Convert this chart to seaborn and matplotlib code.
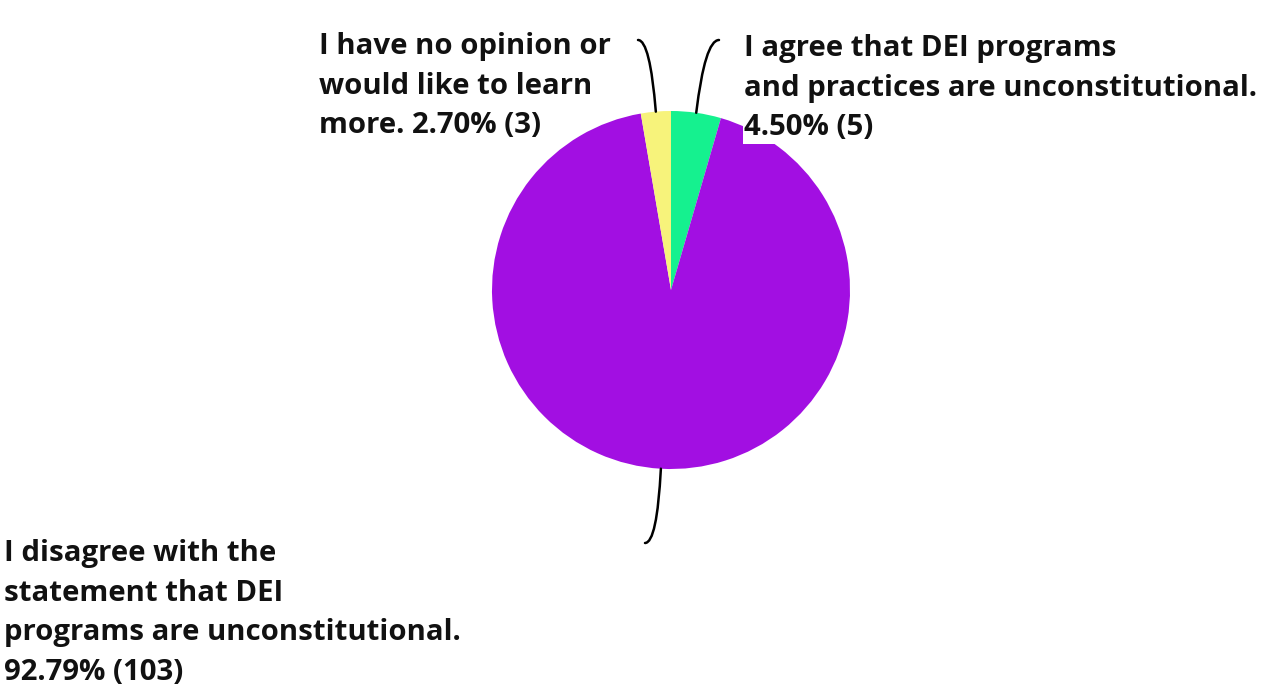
import numpy as np
import matplotlib
matplotlib.use("Agg")
import matplotlib.pyplot as plt
from matplotlib.path import Path
from matplotlib.patches import PathPatch
import seaborn as sns

# survey answers, in clockwise order from 12 o'clock
answers = [
    "I agree that DEI programs\nand practices are unconstitutional.",
    "I disagree with the\nstatement that DEI\nprograms are unconstitutional.",
    "I have no opinion or\nwould like to learn\nmore.",
]
shares = [4.50, 92.79, 2.70]
counts = [5, 103, 3]
colors = ["#15F18F", "#A20FE2", "#F7F37B"]

sns.set_theme(style="white")
plt.rcParams["font.family"] = ["Open Sans", "DejaVu Sans"]

W, H = 1264, 700
fig = plt.figure(figsize=(W / 100, H / 100), dpi=100)
ax = fig.add_axes([0, 0, 1, 1])

cx, cy, r = 671, 290, 179
# y is flipped below, so counterclock in data = clockwise on screen
wedges, _ = ax.pie(shares, colors=colors, startangle=-90, counterclock=True,
                   center=(cx, cy), radius=r, frame=True,
                   wedgeprops=dict(linewidth=0))
ax.set_xlim(0, W)
ax.set_ylim(H, 0)  # pixel-like coords, y down
ax.axis("off")

# label placement: text anchor, separator, leader end, bezier control
layout = [
    dict(xy=(744, 34), sep="\n", end=(719, 40), ctrl=(705, 40), bbox=True),
    dict(xy=(4, 539), sep="\n", end=(645, 543), ctrl=(657, 543), bbox=False),
    dict(xy=(319, 32), sep=" ", end=(638, 40), ctrl=(650, 40), bbox=False),
]

for w, ans, pct, n, lay in zip(wedges, answers, shares, counts, layout):
    mid = np.deg2rad((w.theta1 + w.theta2) / 2)
    start = (cx + r * np.cos(mid), cy + r * np.sin(mid))
    path = Path([start, lay["ctrl"], lay["end"]],
                [Path.MOVETO, Path.CURVE3, Path.CURVE3])
    ax.add_patch(PathPatch(path, fill=False, lw=1.8, color="black",
                           capstyle="round", zorder=3))
    label = f"{ans}{lay['sep']}{pct:.2f}% ({n})"
    t = ax.text(*lay["xy"], label, ha="left", va="top", fontsize=21.2,
                fontweight="bold", color="#111111", linespacing=1.48, zorder=4)
    if lay["bbox"]:
        t.set_bbox(dict(facecolor="white", edgecolor="none", pad=1))

fig.savefig("out.png", dpi=100)
